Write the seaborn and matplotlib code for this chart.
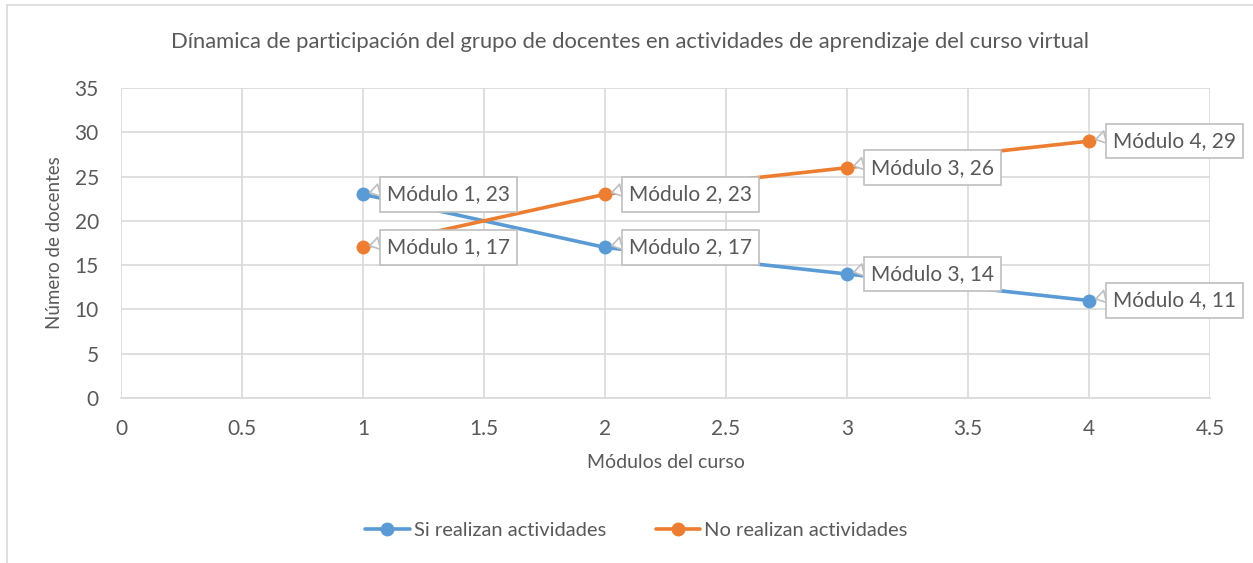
import matplotlib
matplotlib.use("Agg")
import matplotlib.pyplot as plt
import seaborn as sns
import pandas as pd
from matplotlib.patches import Rectangle

modules = [1, 2, 3, 4]
module_names = ["Módulo 1", "Módulo 2", "Módulo 3", "Módulo 4"]
si_realizan = [23, 17, 14, 11]
no_realizan = [17, 23, 26, 29]
series_names = ["Si realizan actividades", "No realizan actividades"]
colors = ["#5B9BD5", "#ED7D31"]
x_ticks = [0, 0.5, 1, 1.5, 2, 2.5, 3, 3.5, 4, 4.5]
x_tick_labels = ["0", "0.5", "1", "1.5", "2", "2.5", "3", "3.5", "4", "4.5"]
y_ticks = [0, 5, 10, 15, 20, 25, 30, 35]

title = "Dínamica de participación del grupo de docentes en actividades de aprendizaje del curso virtual"
xlabel = "Módulos del curso"
ylabel = "Número de docentes"

df = pd.DataFrame({
    "modulo": modules * 2,
    "valor": si_realizan + no_realizan,
    "serie": [series_names[0]] * 4 + [series_names[1]] * 4,
    "nombre": module_names * 2,
})

sns.set_theme(style="white")
plt.rcParams["font.family"] = ["Lato", "DejaVu Sans"]
txt = "#595959"
grid = "#D9D9D9"

fig = plt.figure(figsize=(12.53, 5.63), dpi=100)
ax = fig.add_axes([121 / 1253, 1 - 398 / 563, (1210 - 121) / 1253, (398 - 88) / 563])

sns.lineplot(data=df, x="modulo", y="valor", hue="serie", palette=colors,
             marker="o", markersize=10, markeredgewidth=0, linewidth=2.6,
             ax=ax, legend=True)

ax.set_xlim(0, 4.5)
ax.set_ylim(0, 35)
ax.set_xticks(x_ticks)
ax.set_xticklabels(x_tick_labels)
ax.set_yticks(y_ticks)
ax.tick_params(axis="x", length=0, labelsize=15, colors=txt, pad=15)
ax.tick_params(axis="y", length=0, labelsize=15, colors=txt, pad=16)
ax.grid(True, color=grid, linewidth=1.2)
ax.set_axisbelow(True)
for s in ["top", "right", "left"]:
    ax.spines[s].set_visible(False)
ax.spines["bottom"].set_color(grid)
ax.spines["bottom"].set_linewidth(1.2)

ax.set_xlabel(xlabel, fontsize=14, color=txt, labelpad=11)
ax.set_ylabel(ylabel, fontsize=13.5, color=txt, labelpad=8)

fig.text(0.503, 1 - 42 / 563, title, ha="center", va="center", fontsize=15.8, color=txt)

for _, r in df.iterrows():
    ax.annotate(f"{r['nombre']}, {r['valor']}", xy=(r["modulo"], r["valor"]),
                xytext=(24, 0), textcoords="offset pixels",
                ha="left", va="center", fontsize=15, color=txt,
                bbox=dict(boxstyle="square,pad=0.35", fc="white", ec="#BFBFBF", lw=1.2),
                arrowprops=dict(arrowstyle="wedge,tail_width=0.6,shrink_factor=0.5",
                                fc="white", ec="#BFBFBF", lw=1.2,
                                relpos=(0.0, 0.8), shrinkA=0, shrinkB=5),
                zorder=5)

handles, labels = ax.get_legend_handles_labels()
ax.legend_.remove()
fig.legend(handles, labels, loc="center", bbox_to_anchor=(0.508, 1 - 530 / 563),
           ncol=2, frameon=False, fontsize=14.5, labelcolor=txt,
           handlelength=2.2, columnspacing=2.5, handletextpad=0.2)

fig.patches.append(Rectangle((7 / 1253, -0.1), 1.2, 1 - 5 / 563 + 0.1,
                             transform=fig.transFigure, fill=False,
                             ec=grid, lw=1.2, zorder=-1))

fig.savefig("out.png", dpi=100)
